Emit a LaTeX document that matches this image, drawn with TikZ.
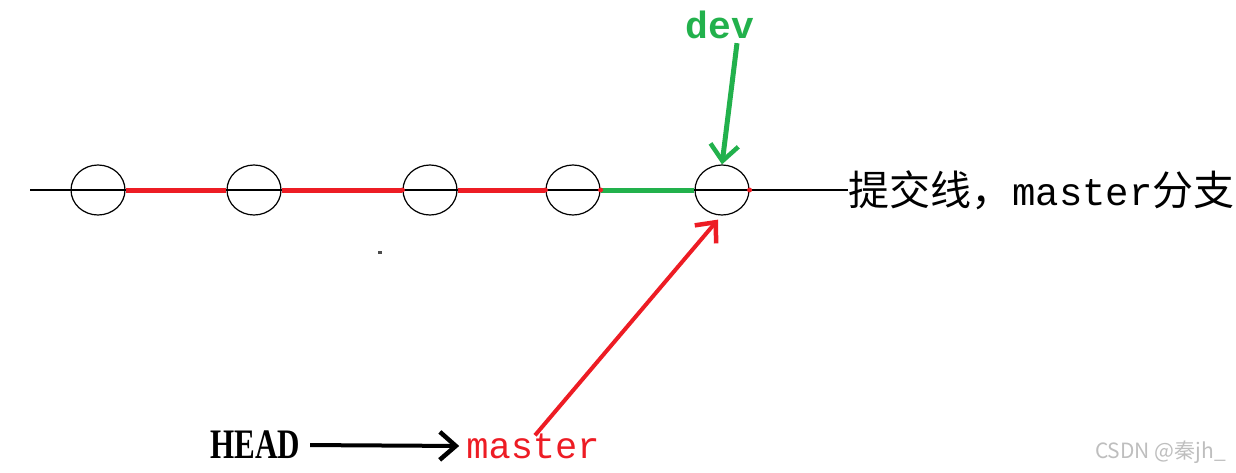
\documentclass[tikz,border=0pt]{standalone}
\usepackage{fontspec}
\setmainfont{Liberation Serif}
\newfontfamily\cjk{Noto Sans CJK SC}
\newfontfamily\monof{Liberation Mono}
\usetikzlibrary{shapes.geometric,arrows.meta,calc}
\definecolor{pred}{RGB}{237,28,36}
\definecolor{pgreen}{RGB}{34,177,76}
\definecolor{wm}{RGB}{190,190,190}
\tikzset{
  commit/.style={ellipse,draw=black,line width=1.2pt,minimum width=54pt,minimum height=50pt,inner sep=0pt},
  redseg/.style={pred,line width=5pt},
  greenseg/.style={pgreen,line width=5pt},
  barb/.style={-{Straight Barb[length=16pt,width=28pt,line width=4.5pt]}},
}
\begin{document}
\begin{tikzpicture}[x=1pt,y=-1pt]
\useasboundingbox (0,0) rectangle (1236,472);
% text at the end of the line
\node[anchor=west,inner sep=0pt,font=\fontsize{41}{41}\selectfont] (txt) at (848,190)
  {{\cjk 提交线，}{\monof\fontsize{39}{39}\selectfont master}{\cjk 分支}};
\coordinate (start) at (30,190);
% commits
\node[commit] (c1) at (98,190) {};
\node[commit] (c2) at (254,190) {};
\node[commit] (c3) at (430,190) {};
\node[commit] (c4) at (573,190) {};
\node[commit] (c5) at (722,190) {};
% black commit line
\draw[black,line width=2pt] (start) -- (txt.west);
% coloured segments
\draw[redseg] (c1.east) -- (c2.west);
\draw[redseg] (c2.east) -- (c3.west);
\draw[redseg] (c3.east) -- (c4.west);
\draw[greenseg] (c4.east) -- (c5.west);
% little red marks on circle edges
\fill[pred] (c3.west) circle (2.5pt);
\fill[pred] (c4.west) circle (2.5pt);
\fill[pred] (c4.east) circle (2.5pt);
\fill[pred] (c5.east) circle (2.5pt);
% labels
\node[pgreen,font=\monof\bfseries\fontsize{38}{38}\selectfont,inner sep=2pt] (dev) at (720,25) {dev};
\node[font=\bfseries\fontsize{42}{42}\selectfont,inner sep=2pt] (head) at (255,445) {\scalebox{0.74}[1]{HEAD}};
\node[pred,font=\monof\fontsize{37}{37}\selectfont,inner sep=2pt] (master) at (533,446) {master};
% arrows
\draw[pgreen,line width=5pt,barb] ($(dev.south)+(17,2)$) -- (c5.north);
\draw[pred,line width=4pt,barb] ($(master.north)+(2,4)$) -- ($(c5.south)+(-4,4)$);
\draw[black,line width=4pt,barb,shorten <=8pt,shorten >=5pt] (head.east) -- (master.west);
% stray dot
\fill[black!70] (378,251) rectangle (382,254);
% watermark
\node[wm,font=\cjk\fontsize{21}{21}\selectfont,anchor=east,inner sep=0pt] (wmark) at (1226,452) {CSDN @秦jh\_};
\end{tikzpicture}
\end{document}
